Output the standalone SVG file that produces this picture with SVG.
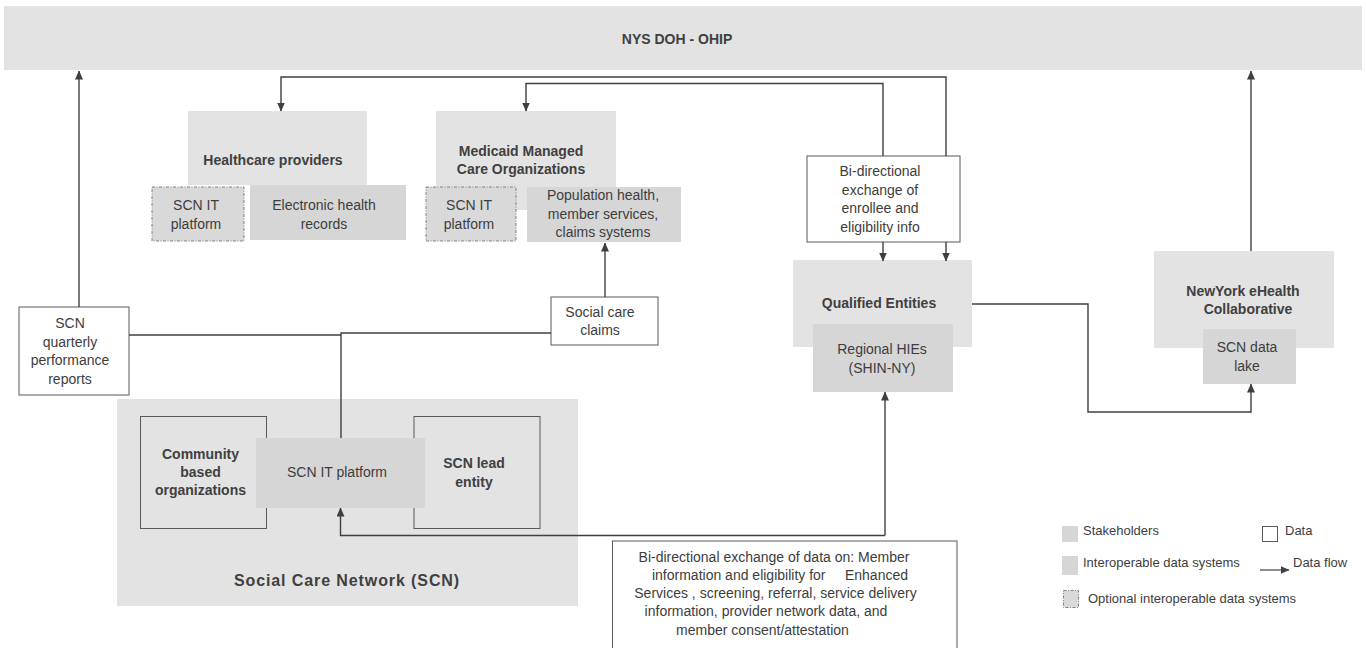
<svg xmlns="http://www.w3.org/2000/svg" width="1366" height="648" viewBox="0 0 1366 648">
<style>
text{font-family:"Liberation Sans",Arial,sans-serif;font-size:14px;fill:#3d3d3d;text-anchor:middle}
.b{font-weight:bold;fill:#404040}
.lg{font-size:13px;text-anchor:start}
.stk{fill:#e3e3e3}
.sys{fill:#d6d6d6}
.opt{fill:#d9d9d9;stroke:#808080;stroke-width:1;stroke-dasharray:3 1.5 1 1.5}
.data{fill:#ffffff;stroke:#595959;stroke-width:1}
.inner{fill:none;stroke:#595959;stroke-width:1}
.c{fill:none;stroke:#3f3f3f;stroke-width:1.4}
.ca{fill:none;stroke:#3f3f3f;stroke-width:1.4;marker-end:url(#ah)}
</style>
<defs>
<marker id="ah" markerUnits="userSpaceOnUse" markerWidth="9" markerHeight="8" refX="8.5" refY="4" orient="auto">
<path d="M0,0 L9,4 L0,8 z" fill="#3f3f3f"/>
</marker>
</defs>
<rect width="1366" height="648" fill="#ffffff"/>

<g id="nys-doh">
<rect class="stk" x="4" y="6" width="1358" height="64"/>
<text class="b" x="677" y="44">NYS DOH  - OHIP</text>
</g>

<g id="healthcare-providers">
<rect class="stk" x="188" y="111" width="179" height="74"/>
<text class="b" x="273" y="165">Healthcare providers</text>
<rect class="opt" x="152" y="187" width="92" height="54"/>
<text x="196" y="210">SCN IT</text>
<text x="196" y="229">platform</text>
<rect class="sys" x="250" y="185" width="156" height="55"/>
<text x="324" y="210">Electronic health</text>
<text x="324" y="229">records</text>
</g>

<g id="mmco">
<rect class="stk" x="436" y="111" width="180" height="99"/>
<text class="b" x="521" y="156">Medicaid Managed</text>
<text class="b" x="521" y="174">Care Organizations</text>
<rect class="opt" x="426" y="187" width="90" height="54"/>
<text x="469" y="210">SCN IT</text>
<text x="469" y="229">platform</text>
<rect class="sys" x="527" y="187" width="154" height="55"/>
<text x="603" y="200">Population health,</text>
<text x="603" y="218.5">member services,</text>
<text x="603" y="237">claims systems</text>
</g>

<g id="bidir-enrollee">
<rect class="data" x="807" y="156" width="153" height="86"/>
<text x="880" y="176">Bi-directional</text>
<text x="880" y="194.5">exchange of</text>
<text x="880" y="213">enrollee and</text>
<text x="880" y="231.5">eligibility info</text>
</g>

<g id="qualified-entities">
<rect class="stk" x="793" y="260" width="179" height="87"/>
<text class="b" x="879" y="308">Qualified Entities</text>
<rect class="sys" x="813" y="324" width="140" height="68"/>
<text x="882" y="354">Regional HIEs</text>
<text x="882" y="373">(SHIN-NY)</text>
</g>

<g id="ny-ehealth">
<rect class="stk" x="1154" y="251" width="180" height="97"/>
<text class="b" x="1243" y="296">NewYork eHealth</text>
<text class="b" x="1248" y="314">Collaborative</text>
<rect class="sys" x="1203" y="329" width="93" height="55"/>
<text x="1247" y="352">SCN data</text>
<text x="1247" y="371">lake</text>
</g>

<g id="quarterly-reports">
<rect class="data" x="19" y="307" width="110" height="88"/>
<text x="70" y="328">SCN</text>
<text x="70" y="346.5">quarterly</text>
<text x="70" y="365">performance</text>
<text x="70" y="383.5">reports</text>
</g>

<g id="social-care-claims">
<rect class="data" x="551" y="297" width="107" height="48"/>
<text x="600" y="317">Social care</text>
<text x="600" y="335">claims</text>
</g>

<g id="scn">
<rect class="stk" x="117" y="399" width="461" height="207"/>
<rect class="inner" x="140.5" y="416.5" width="126" height="112"/>
<text class="b" x="200.5" y="459">Community</text>
<text class="b" x="200.5" y="477">based</text>
<text class="b" x="200.5" y="495">organizations</text>
<rect class="inner" x="414" y="416.5" width="126" height="112"/>
<text class="b" x="474" y="468">SCN lead</text>
<text class="b" x="474" y="486.5">entity</text>
<rect class="sys" x="256" y="438" width="169" height="70"/>
<text x="337" y="477">SCN IT platform</text>
<text class="b" x="347" y="586" style="font-size:16px;letter-spacing:0.9px">Social Care Network (SCN)</text>
</g>

<g id="bidir-data">
<rect class="data" x="612.5" y="541" width="344.5" height="112"/>
<text x="774" y="561.5">Bi-directional exchange of data on: Member</text>
<text x="780" y="579.5" style="white-space:pre" xml:space="preserve">information and eligibility for     Enhanced</text>
<text x="775.5" y="598">Services , screening, referral, service delivery</text>
<text x="766" y="616">information, provider network data, and</text>
<text x="762.5" y="634.5">member consent/attestation</text>
</g>

<g id="connectors">
<path class="ca" d="M79,307 V71"/>
<path class="ca" d="M1251,251 V71"/>
<path class="ca" d="M946,156 V77 H281 V111"/>
<path class="ca" d="M883,156 V83.5 H526 V111"/>
<path class="ca" d="M883,242 V261"/>
<path class="ca" d="M946,242 V261"/>
<path class="c" d="M129,335 H341"/>
<path class="c" d="M341,438 V333 H551"/>
<path class="ca" d="M605,297 V243"/>
<path class="ca" d="M972,304 H1088 V412 H1251 V384"/>
<path class="ca" d="M885,535.5 H340.5 V508"/>
<path class="ca" d="M885,535.5 V392"/>
</g>

<g id="legend">
<rect class="sys" x="1062" y="526" width="16" height="16"/>
<text class="lg" x="1083" y="535">Stakeholders</text>
<rect class="data" x="1262.5" y="526.5" width="15" height="15"/>
<text class="lg" x="1285" y="535">Data</text>
<rect class="sys" x="1062" y="556" width="16" height="19"/>
<text class="lg" x="1083" y="567">Interoperable data systems</text>
<path class="ca" d="M1260,570 H1289" style="stroke-width:1.2"/>
<text class="lg" x="1293" y="567">Data flow</text>
<rect class="opt" x="1063.5" y="590.5" width="15" height="17"/>
<text class="lg" x="1088" y="603">Optional interoperable data systems</text>
</g>
</svg>
